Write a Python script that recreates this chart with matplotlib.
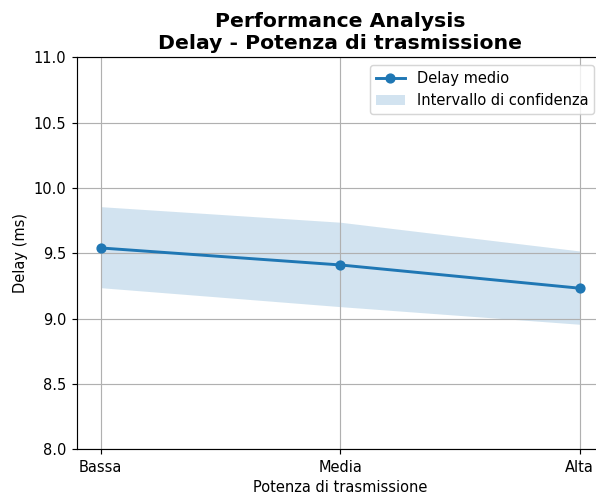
import matplotlib
matplotlib.use('Agg')
import matplotlib.pyplot as plt

livelli = ['Bassa', 'Media', 'Alta']
delay_medio = [9.541, 9.411, 9.233]
ci_sup = [9.857, 9.738, 9.518]
ci_inf = [9.237, 9.092, 8.957]

DPI = 105
fig = plt.figure(figsize=(596 / DPI, 496 / DPI), dpi=DPI)
ax = fig.add_axes([0.1287, 0.0941, 0.884, 0.7904])

x = range(len(livelli))
ax.plot(x, delay_medio, marker='o', color='tab:blue', linewidth=2, markersize=6,
        label='Delay medio')
ax.fill_between(x, ci_inf, ci_sup, color='tab:blue', alpha=0.2, linewidth=0,
                label='Intervallo di confidenza')

ax.set_xticks(list(x))
ax.set_xticklabels(livelli)
ax.set_xlim(-0.1, 2.1)
ax.set_ylim(8.0, 11.0)
ax.set_xlabel('Potenza di trasmissione')
ax.set_ylabel('Delay (ms)')
ax.set_title('Performance Analysis\nDelay - Potenza di trasmissione',
             fontsize=14, fontweight='bold')
ax.grid(True)
# legend pinned so its frame sits just inside the right edge of the figure
ax.legend(loc='upper right', bbox_to_anchor=(594 / 596, 1 - 65 / 496),
          bbox_transform=fig.transFigure, borderaxespad=0)

fig.savefig('out.png', dpi=DPI)
